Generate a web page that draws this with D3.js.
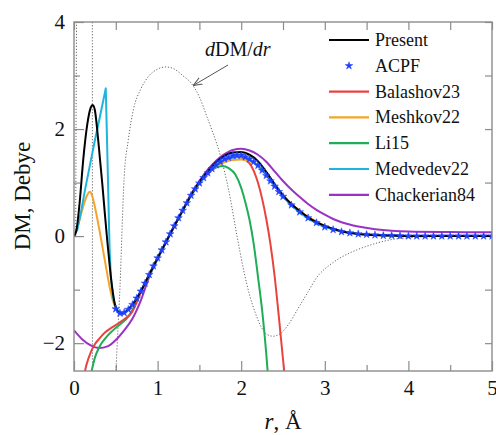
<!DOCTYPE html>
<html>
<head>
<meta charset="utf-8">
<script src="https://cdn.jsdelivr.net/npm/d3@7"></script>
<style>
  body { margin: 0; background: #fff; }
  svg { display: block; }
  svg text { font-family: "Liberation Serif", "Times New Roman", serif !important; fill: #111; }
</style>
</head>
<body>
<svg id="chart" width="496" height="435"></svg>
<script>
// Dipole moment curves, DM(r) in Debye versus internuclear distance r in Å
const xTicks = [0, 1, 2, 3, 4, 5];
const xMinorTicks = [0.5, 1.5, 2.5, 3.5, 4.5];
const yTicks = [-2, 0, 2, 4];
const yMinorTicks = [-1, 1, 3];

const present = [[0,0],[0.03,0.12],[0.07,0.67],[0.11,1.42],[0.16,2.1],[0.2,2.4],[0.224,2.45],[0.25,2.35],[0.28,1.95],[0.31,1.45],[0.34,0.95],[0.37,0.4],[0.4,-0.12],[0.43,-0.6],[0.46,-1.0],[0.49,-1.28],[0.52,-1.4],[0.55,-1.44],[0.6,-1.43],[0.7,-1.28],[0.8,-1.03],[0.9,-0.72],[1.0,-0.41],[1.1,-0.11],[1.2,0.19],[1.3,0.48],[1.4,0.77],[1.5,1.01],[1.6,1.21],[1.7,1.38],[1.8,1.5],[1.9,1.56],[2.0,1.57],[2.1,1.52],[2.2,1.4],[2.3,1.2],[2.4,0.97],[2.5,0.76],[2.6,0.6],[2.7,0.47],[2.8,0.35],[2.9,0.26],[3.0,0.19],[3.2,0.09],[3.4,0.04],[3.6,0.02],[3.8,0.01],[4.0,0],[5.0,0]];

const acpf = [[0.5,-1.36],[0.55,-1.44],[0.6,-1.43],[0.65,-1.37],[0.7,-1.28],[0.75,-1.16],[0.8,-1.03],[0.85,-0.88],[0.9,-0.72],[0.95,-0.56],[1.0,-0.41],[1.05,-0.26],[1.1,-0.11],[1.15,0.04],[1.2,0.19],[1.25,0.34],[1.3,0.48],[1.35,0.62],[1.4,0.76],[1.45,0.88],[1.5,0.99],[1.55,1.09],[1.6,1.18],[1.65,1.26],[1.7,1.33],[1.75,1.39],[1.8,1.44],[1.85,1.47],[1.9,1.5],[1.95,1.51],[2.0,1.51],[2.05,1.48],[2.1,1.44],[2.15,1.39],[2.2,1.32],[2.25,1.23],[2.3,1.13],[2.35,1.03],[2.4,0.93],[2.45,0.83],[2.5,0.74],[2.6,0.58],[2.7,0.45],[2.8,0.34],[2.9,0.25],[3.0,0.17],[3.1,0.12],[3.2,0.08],[3.3,0.06],[3.4,0.04],[3.5,0.03],[3.6,0.02],[3.7,0.01],[3.8,0.01],[3.9,0.005],[4.0,0],[4.1,0],[4.2,0],[4.3,0],[4.4,0],[4.5,0],[4.6,0],[4.7,0],[4.8,0],[4.9,0],[5.0,0]];

const balashov23 = [[0.12,-2.6],[0.15,-2.4],[0.2,-2.17],[0.25,-2.02],[0.3,-1.92],[0.37,-1.8],[0.45,-1.71],[0.55,-1.61],[0.62,-1.53],[0.69,-1.43],[0.75,-1.24],[0.8,-1.05],[0.9,-0.72],[1.0,-0.41],[1.1,-0.11],[1.2,0.19],[1.3,0.48],[1.4,0.76],[1.5,0.99],[1.6,1.18],[1.7,1.32],[1.8,1.42],[1.9,1.47],[1.95,1.48],[2.0,1.47],[2.05,1.43],[2.1,1.36],[2.15,1.22],[2.2,1.0],[2.25,0.7],[2.3,0.32],[2.35,-0.15],[2.4,-0.75],[2.45,-1.5],[2.5,-2.3],[2.52,-2.6]];

const meshkov22 = [[0,0],[0.05,0.22],[0.1,0.5],[0.15,0.74],[0.19,0.83],[0.22,0.74],[0.26,0.47],[0.3,0.15],[0.34,-0.2],[0.38,-0.55],[0.42,-0.9],[0.46,-1.18],[0.5,-1.35],[0.55,-1.44],[0.6,-1.43],[0.7,-1.28],[0.8,-1.03],[0.9,-0.72],[1.0,-0.41],[1.1,-0.11],[1.2,0.19],[1.3,0.48],[1.4,0.76],[1.5,0.98],[1.6,1.16],[1.7,1.3],[1.8,1.38],[1.9,1.42],[2.0,1.43],[2.1,1.4],[2.2,1.32],[2.3,1.16],[2.4,0.96],[2.5,0.77],[2.6,0.6],[2.7,0.47],[2.8,0.36],[2.9,0.27],[3.0,0.19],[3.2,0.09],[3.4,0.04],[3.6,0.02],[3.8,0.01],[4.0,0],[5.0,0]];

const li15 = [[0.2,-2.6],[0.25,-2.27],[0.3,-2.08],[0.38,-1.9],[0.46,-1.77],[0.55,-1.65],[0.63,-1.54],[0.7,-1.38],[0.75,-1.2],[0.8,-1.04],[0.9,-0.72],[1.0,-0.41],[1.1,-0.11],[1.2,0.19],[1.3,0.48],[1.4,0.76],[1.5,0.99],[1.6,1.17],[1.7,1.28],[1.77,1.31],[1.85,1.27],[1.93,1.15],[2.0,0.9],[2.05,0.63],[2.1,0.3],[2.15,-0.15],[2.2,-0.75],[2.25,-1.38],[2.3,-2.2],[2.32,-2.6]];

const medvedev22 = [[0,0],[0.04,0.12],[0.08,0.42],[0.13,0.85],[0.2,1.4],[0.25,1.79],[0.31,2.23],[0.38,2.76],[0.395,1.8],[0.41,0.8],[0.425,-0.2],[0.44,-0.75],[0.47,-1.18],[0.51,-1.37],[0.55,-1.44],[0.6,-1.43],[0.65,-1.37],[0.7,-1.28],[0.8,-1.03],[0.9,-0.72],[1.0,-0.41],[1.1,-0.11],[1.2,0.19],[1.3,0.48],[1.4,0.76],[1.5,0.99],[1.6,1.18],[1.7,1.33],[1.8,1.43],[1.9,1.47],[2.0,1.48],[2.1,1.43],[2.2,1.33],[2.3,1.15],[2.4,0.94],[2.5,0.74],[2.6,0.57],[2.7,0.44],[2.8,0.33],[2.9,0.24],[3.0,0.17],[3.2,0.08],[3.4,0.04],[3.6,0.02],[3.8,0.01],[4.0,0],[5.0,0]];

const chackerian84 = [[0,-1.76],[0.1,-1.93],[0.2,-2.04],[0.3,-2.09],[0.4,-2.06],[0.5,-1.94],[0.6,-1.76],[0.7,-1.54],[0.8,-1.2],[0.9,-0.76],[1.0,-0.43],[1.1,-0.12],[1.2,0.19],[1.3,0.49],[1.4,0.78],[1.5,1.03],[1.6,1.24],[1.7,1.41],[1.8,1.53],[1.9,1.61],[2.0,1.63],[2.1,1.6],[2.2,1.52],[2.3,1.39],[2.4,1.21],[2.5,1.03],[2.6,0.87],[2.7,0.73],[2.8,0.6],[2.9,0.49],[3.0,0.4],[3.1,0.32],[3.2,0.26],[3.4,0.18],[3.6,0.13],[3.8,0.1],[4.0,0.085],[4.5,0.075],[5.0,0.07]];

// Derivative dDM/dr of the present curve (same units, dotted)
const dDMdr = [[0.02,0],[0.035,4.6],[0.21,4.6],[0.219,4.6],[0.221,-3],[0.3,-3],[0.49,-3],[0.5,-2.6],[0.55,-0.95],[0.6,1.1],[0.65,1.8],[0.71,2.36],[0.8,2.75],[0.9,3.0],[1.0,3.12],[1.1,3.16],[1.2,3.12],[1.3,3.0],[1.4,2.86],[1.5,2.6],[1.59,2.23],[1.65,1.98],[1.75,1.51],[1.85,0.86],[1.95,0.0],[2.03,-0.64],[2.1,-1.1],[2.17,-1.44],[2.24,-1.7],[2.31,-1.84],[2.38,-1.87],[2.47,-1.82],[2.57,-1.64],[2.67,-1.38],[2.8,-1.04],[2.91,-0.76],[3.05,-0.55],[3.17,-0.42],[3.38,-0.26],[3.6,-0.14],[3.78,-0.07],[4.0,-0.03],[4.3,-0.01],[4.6,0],[5.0,0]];

const seriesNames = ["Present", "ACPF", "Balashov23", "Meshkov22", "Li15", "Medvedev22", "Chackerian84"];
const seriesColors = ["#000000", "#2040ff", "#e8433e", "#f5a42a", "#1fae55", "#1cb6dc", "#9a32c4"];

const serif = "'Liberation Serif', 'Times New Roman', serif";
const svg = d3.select("#chart");
const x = d3.scaleLinear().domain([0, 5]).range([74, 492]);
const y = d3.scaleLinear().domain([-2.52, 4]).range([371, 22]);
const frameColor = "#8c8c8c";

const defs = svg.append("defs");
defs.append("clipPath").attr("id", "plot-clip")
  .append("rect")
  .attr("x", x(0)).attr("y", y(4))
  .attr("width", x(5) - x(0)).attr("height", y(-2.52) - y(4));

// axes with inward ticks
function styleAxis(g) {
  g.attr("font-family", serif);
  g.select(".domain").remove();
  g.selectAll(".tick line").attr("stroke", frameColor).attr("stroke-width", 1.2);
  g.selectAll(".tick text").style("font-family", serif).style("font-size", "21px").attr("fill", "#111");
}
const axisBottomG = svg.append("g").attr("transform", `translate(0,${y(-2.52)})`)
  .call(d3.axisBottom(x).tickValues(xTicks).tickSize(-10).tickPadding(9).tickFormat(d3.format("d")));
styleAxis(axisBottomG);
const axisBottomMinorG = svg.append("g").attr("transform", `translate(0,${y(-2.52)})`)
  .call(d3.axisBottom(x).tickValues(xMinorTicks).tickSize(-6).tickFormat(""));
styleAxis(axisBottomMinorG);
const axisTopG = svg.append("g").attr("transform", `translate(0,${y(4)})`)
  .call(d3.axisTop(x).tickValues(xTicks.concat(xMinorTicks)).tickSize(-8).tickFormat(""));
styleAxis(axisTopG);
const axisLeftG = svg.append("g").attr("transform", `translate(${x(0)},0)`)
  .call(d3.axisLeft(y).tickValues(yTicks).tickSize(-10).tickPadding(9).tickFormat(d3.format("d")));
styleAxis(axisLeftG);
const axisLeftMinorG = svg.append("g").attr("transform", `translate(${x(0)},0)`)
  .call(d3.axisLeft(y).tickValues(yMinorTicks).tickSize(-6).tickFormat(""));
styleAxis(axisLeftMinorG);
const axisRightG = svg.append("g").attr("transform", `translate(${x(5)},0)`)
  .call(d3.axisRight(y).tickValues(yTicks.concat(yMinorTicks)).tickSize(-7).tickFormat(""));
styleAxis(axisRightG);

const plot = svg.append("g").attr("clip-path", "url(#plot-clip)");

const smooth = d3.line().x(d => x(d[0])).y(d => y(d[1])).curve(d3.curveMonotoneX);
const straight = d3.line().x(d => x(d[0])).y(d => y(d[1]));

// derivative curve
plot.append("path").datum(dDMdr)
  .attr("d", smooth).attr("fill", "none")
  .attr("stroke", "#666").attr("stroke-width", 1)
  .attr("stroke-dasharray", "1.2,1.8");

const lineSeries = [
  { data: chackerian84, color: seriesColors[6], gen: smooth },
  { data: li15, color: seriesColors[4], gen: smooth },
  { data: balashov23, color: seriesColors[2], gen: smooth },
  { data: meshkov22, color: seriesColors[3], gen: smooth },
  { data: medvedev22, color: seriesColors[5], gen: straight },
  { data: present, color: seriesColors[0], gen: smooth }
];
lineSeries.forEach(s => {
  plot.append("path").datum(s.data)
    .attr("d", s.gen).attr("fill", "none")
    .attr("stroke", s.color).attr("stroke-width", 2)
    .attr("stroke-linejoin", "round");
});

const star = d3.symbol().type(d3.symbolStar).size(18);
plot.selectAll("path.acpf").data(acpf).join("path")
  .attr("class", "acpf")
  .attr("d", star)
  .attr("transform", d => `translate(${x(d[0])},${y(d[1])})`)
  .attr("fill", seriesColors[1])
  .attr("stroke", seriesColors[1]).attr("stroke-width", 0.5);

// frame
svg.append("rect")
  .attr("x", x(0)).attr("y", y(4))
  .attr("width", x(5) - x(0)).attr("height", y(-2.52) - y(4))
  .attr("fill", "none").attr("stroke", frameColor).attr("stroke-width", 1.4);

// annotation for the derivative curve
const ann = svg.append("text").attr("x", 205).attr("y", 56)
  .style("font-family", serif).style("font-size", "20px");
ann.append("tspan").attr("font-style", "italic").text("d");
ann.append("tspan").text("DM/");
ann.append("tspan").attr("font-style", "italic").text("dr");
defs.append("marker").attr("id", "arrowhead")
  .attr("viewBox", "0 0 10 10").attr("refX", 9).attr("refY", 5)
  .attr("markerWidth", 9).attr("markerHeight", 9).attr("orient", "auto")
  .append("path").attr("d", "M0,1 L10,5 L0,9").attr("fill", "none").attr("stroke", "#555").attr("stroke-width", 1.2);
svg.append("line").attr("x1", 228).attr("y1", 65).attr("x2", 194).attr("y2", 85)
  .attr("stroke", "#555").attr("stroke-width", 1).attr("marker-end", "url(#arrowhead)");

// legend
const legend = svg.append("g");
seriesNames.forEach((name, i) => {
  const ly = 40 + i * 25.8;
  if (name === "ACPF") {
    legend.append("path").attr("d", star)
      .attr("transform", `translate(349,${ly})`)
      .attr("fill", seriesColors[i]).attr("stroke", seriesColors[i]).attr("stroke-width", 0.5);
  } else {
    legend.append("line").attr("x1", 329).attr("x2", 369).attr("y1", ly).attr("y2", ly)
      .attr("stroke", seriesColors[i]).attr("stroke-width", 2.2);
  }
  legend.append("text").attr("x", 375).attr("y", ly).attr("dy", "0.33em")
    .style("font-family", serif).style("font-size", "18px").text(name);
});

// axis titles
const xt = svg.append("text").attr("x", 283).attr("y", 429).attr("text-anchor", "middle")
  .style("font-family", serif).style("font-size", "23px");
xt.append("tspan").attr("font-style", "italic").text("r");
xt.append("tspan").text(", Å");
svg.append("text").attr("transform", "translate(30,196) rotate(-90)")
  .attr("text-anchor", "middle").style("font-family", serif).style("font-size", "23px").text("DM, Debye");
</script>
</body>
</html>
